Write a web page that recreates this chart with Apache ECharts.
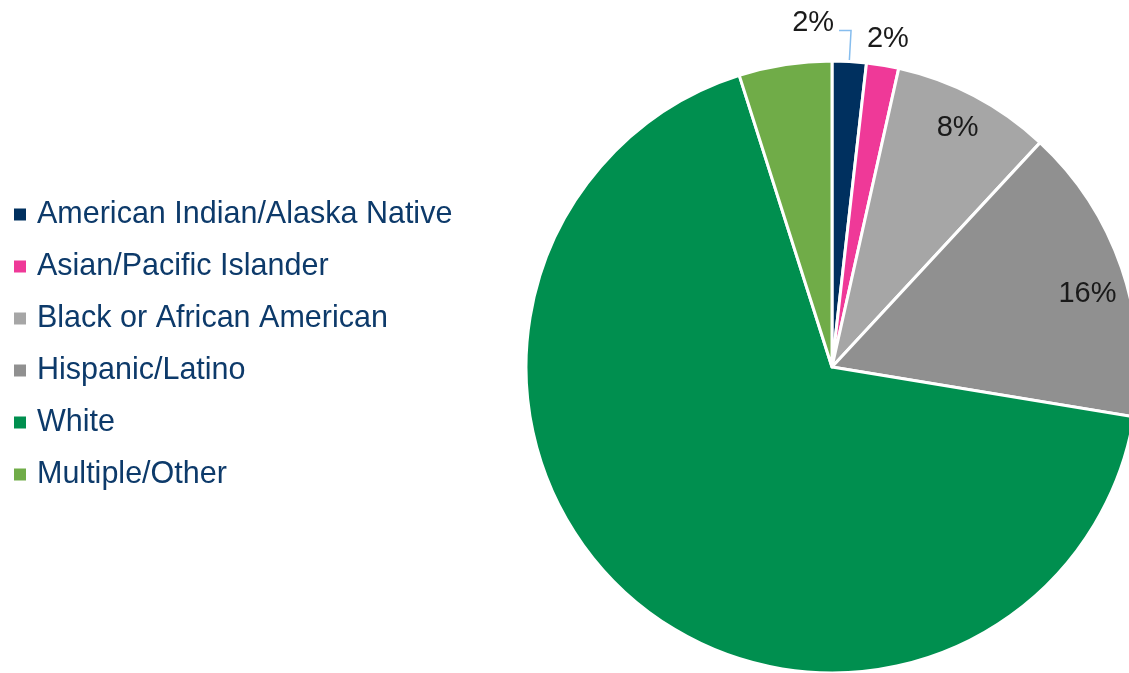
<!DOCTYPE html>
<html>
<head>
<meta charset="utf-8">
<script src="https://cdn.jsdelivr.net/npm/echarts@6/dist/echarts.min.js"></script>
<style>
html,body{margin:0;padding:0;background:#fff;}
#c{width:1129px;height:673px;}
</style>
</head>
<body>
<div id="c"></div>
<script>
const categories = ['American Indian/Alaska Native','Asian/Pacific Islander','Black or African American','Hispanic/Latino','White','Multiple/Other'];
const values = [1.8, 1.7, 8.4, 15.7, 67.5, 4.9];
const colors = ['#00305f','#ef3998','#a6a6a6','#909090','#008f4f','#70ac48'];
const innerLabelIdx = [2, 3];
const ringLabelIdx = [1];
const leaderLabelIdx = [0];

const center = [832, 367];
const R = 306;
const fmt = p => Math.round(p.value) + '%';
const labelFont = {fontFamily:'Liberation Sans', fontSize:29, color:'#1a1a1a'};

function overlay(radius, idxs, shift){
  return {
    type:'pie', center:center, radius:radius, startAngle:90, silent:true,
    label:{show:false}, labelLine:{show:false},
    itemStyle:{color:'rgba(0,0,0,0)', borderWidth:0},
    emphasis:{disabled:true},
    labelLayout: function(p){ return shift && shift[p.dataIndex] ? {dy: shift[p.dataIndex]} : {}; },
    data: categories.map((c,i)=>({
      name:c, value:values[i],
      label: idxs.includes(i) ? Object.assign({show:true, position:'inside', formatter:fmt}, labelFont) : {show:false}
    }))
  };
}

const chart = echarts.init(document.getElementById('c'), null, {renderer:'canvas'});
chart.setOption({
  animation:false,
  color: colors,
  legend:{
    orient:'vertical', left:14, top:199, padding:0,
    itemWidth:12, itemHeight:12, itemGap:21,
    icon:'rect', selectedMode:false,
    itemStyle:{borderWidth:0},
    data: categories,
    textStyle:{fontFamily:'Liberation Sans', fontSize:30.5, lineHeight:30, color:'#0d3a6a', padding:[0,0,0,6]}
  },
  series:[
    {
      type:'pie', center:center, radius:R, startAngle:90,
      avoidLabelOverlap:false,
      emphasis:{disabled:true},
      itemStyle:{borderColor:'#ffffff', borderWidth:3},
      label:{show:false},
      labelLine:{show:false},
      labelLayout: function(p){
        if (leaderLabelIdx.includes(p.dataIndex) && p.labelLinePoints && p.labelLinePoints.length >= 2){
          const a = p.labelLinePoints[0], b = p.labelLinePoints[1];
          const c = [b[0] - 12, b[1]];
          return {labelLinePoints:[a, b, c], x: c[0] - 5, y: c[1] - 8, align:'right', verticalAlign:'middle'};
        }
        return {};
      },
      data: categories.map((c,i)=>({
        name:c, value:values[i],
        itemStyle:{color:colors[i]},
        label: leaderLabelIdx.includes(i) ? Object.assign({show:true, position:'outside', formatter:fmt, distanceToLabelLine:4}, labelFont) : {show:false},
        labelLine: leaderLabelIdx.includes(i) ? {show:true, length:31, length2:12, smooth:false, lineStyle:{color:'#86bdee', width:1.5}} : {show:false}
      }))
    },
    overlay([228, R], innerLabelIdx, {3: 14}),
    overlay([R, 362], ringLabelIdx, {1: 4})
  ]
});
</script>
</body>
</html>
